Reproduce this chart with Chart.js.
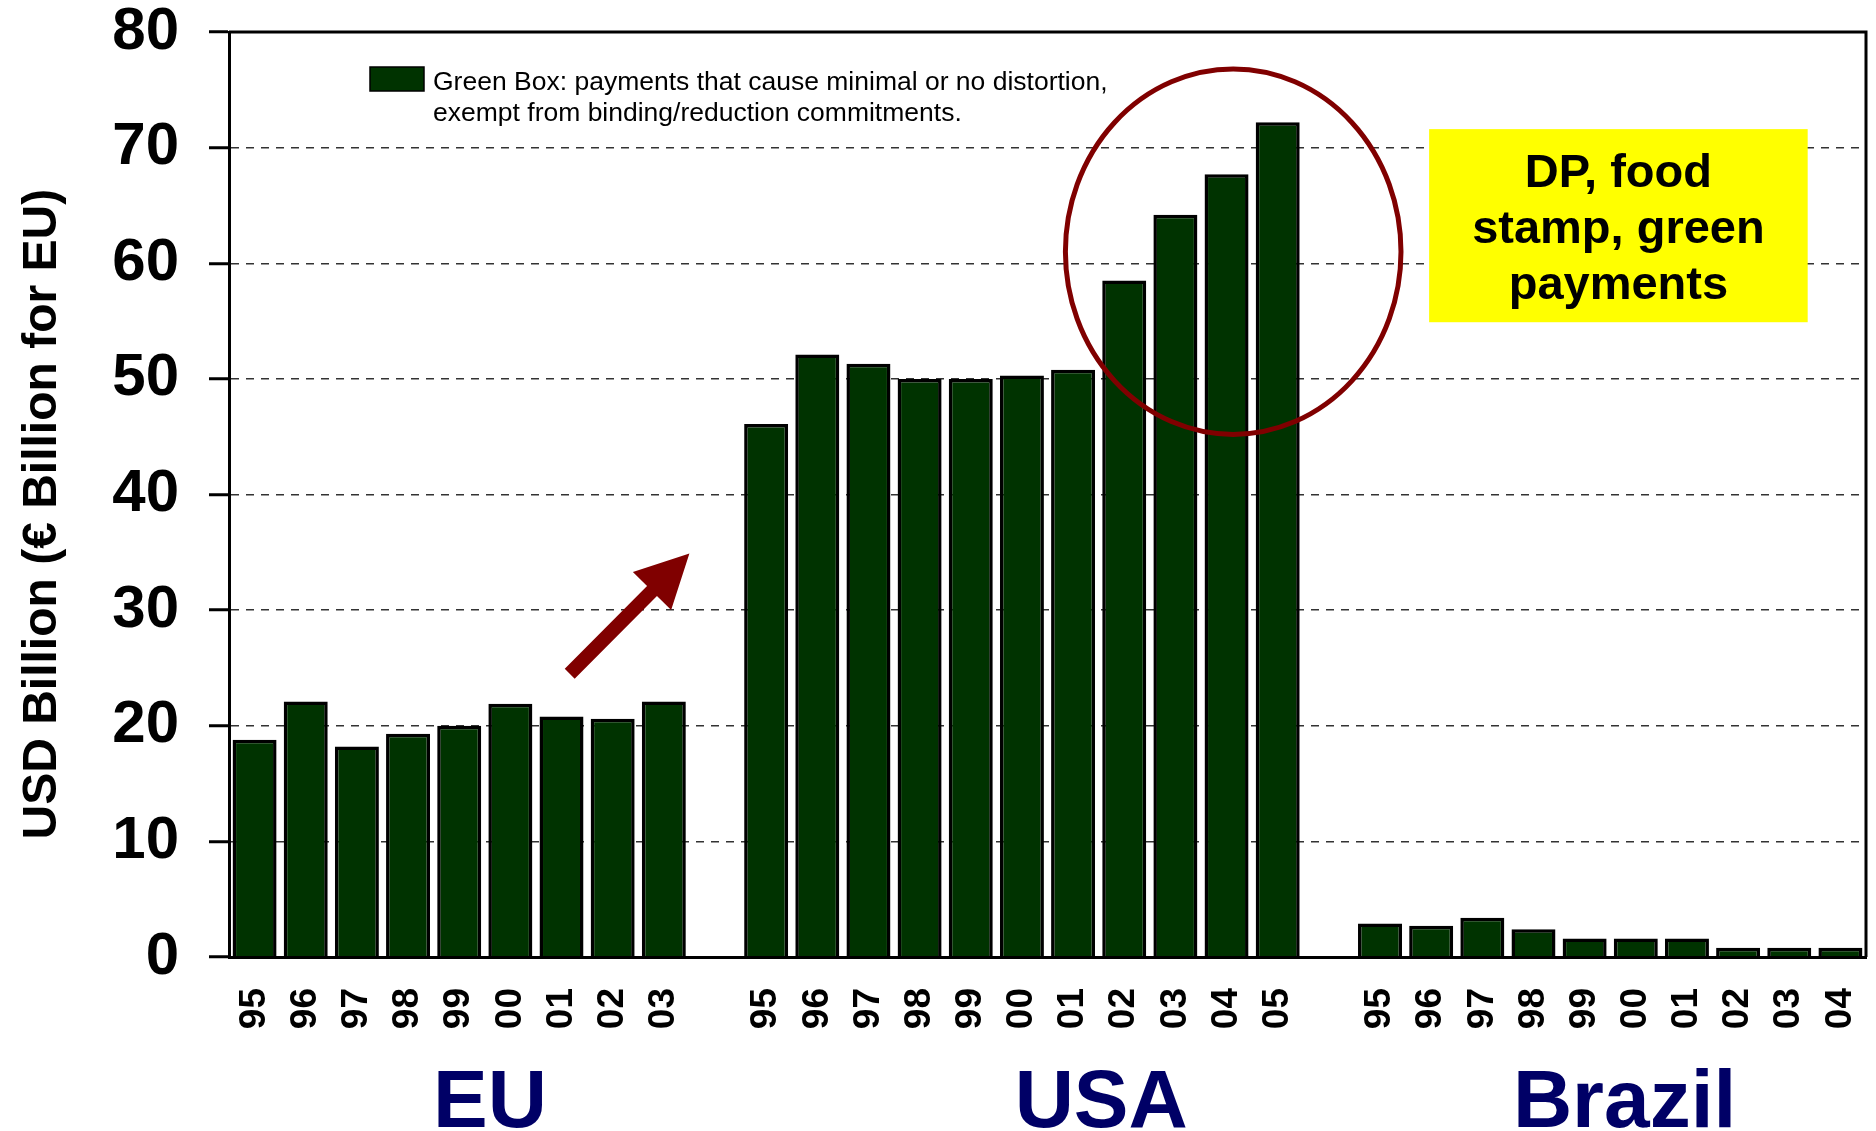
<!DOCTYPE html>
<html>
<head>
<meta charset="utf-8">
<script src="https://cdn.jsdelivr.net/npm/chart.js@4.4.1/dist/chart.umd.min.js"></script>
<style>
  html, body { margin: 0; padding: 0; background: #fff; }
  #wrap { width: 1876px; height: 1131px; position: relative; }
</style>
</head>
<body>
<div id="wrap"><canvas id="greenBoxChart"></canvas></div>
<script>
const euYears = ['95', '96', '97', '98', '99', '00', '01', '02', '03'];
const euValues = [18.8, 22.1, 18.2, 19.3, 20.0, 21.9, 20.8, 20.6, 22.1];

const usaYears = ['95', '96', '97', '98', '99', '00', '01', '02', '03', '04', '05'];
const usaValues = [46.1, 52.1, 51.3, 50.0, 50.0, 50.3, 50.8, 58.5, 64.2, 67.7, 72.2];

const brazilYears = ['95', '96', '97', '98', '99', '00', '01', '02', '03', '04'];
const brazilValues = [2.9, 2.7, 3.4, 2.4, 1.6, 1.6, 1.6, 0.8, 0.8, 0.8];

const groupNames = ['EU', 'USA', 'Brazil'];
const legendLines = [
  'Green Box: payments that cause minimal or no distortion,',
  'exempt from binding/reduction commitments.'
];
const noteLines = ['DP, food', 'stamp, green', 'payments'];
const yTitle = 'USD Billion (\u20ac Billion for EU)';

// one empty slot between the country groups
const labels = [...euYears, '', ...usaYears, '', ...brazilYears];
const values = [...euValues, null, ...usaValues, null, ...brazilValues];

const FONT = '"Liberation Sans", Arial, sans-serif';
const BAR_GREEN = '#003300';
const MAROON = '#800000';
const NAVY = '#000066';

// annotation anchors, in category index / value units
const captionAt = [4.6, 16.55, 26.78];
const ring = { cx: 19.13, cy: 61.0, rx: 3.28, ry: 15.8 };
const noteBox = { x0: 22.96, x1: 30.36, y0: 71.6, y1: 54.9 };
const arrow = { x0: 6.16, y0: 24.5, x1: 8.5, y1: 34.9 };

function drawArrow(ctx, x0, y0, x1, y1, shaft, headLen, headW) {
  const ang = Math.atan2(y1 - y0, x1 - x0);
  const len = Math.hypot(x1 - x0, y1 - y0);
  ctx.save();
  ctx.translate(x0, y0);
  ctx.rotate(ang);
  ctx.beginPath();
  ctx.moveTo(0, -shaft / 2);
  ctx.lineTo(len - headLen, -shaft / 2);
  ctx.lineTo(len - headLen, -headW / 2);
  ctx.lineTo(len, 0);
  ctx.lineTo(len - headLen, headW / 2);
  ctx.lineTo(len - headLen, shaft / 2);
  ctx.lineTo(0, shaft / 2);
  ctx.closePath();
  ctx.fill();
  ctx.restore();
}

const overlay = {
  id: 'overlay',
  afterDatasetsDraw(chart) {
    const { ctx, chartArea: a, scales: { x, y } } = chart;
    ctx.save();

    // frame: top and right edges
    ctx.strokeStyle = '#000';
    ctx.lineWidth = 3;
    ctx.beginPath();
    ctx.moveTo(a.left, a.top);
    ctx.lineTo(a.right, a.top);
    ctx.lineTo(a.right, a.bottom);
    ctx.stroke();

    // legend
    const ds = chart.data.datasets[0];
    const lx = a.left + 141, ly = a.top + 35;
    ctx.fillStyle = ds.backgroundColor;
    ctx.fillRect(lx, ly, 54, 24);
    ctx.lineWidth = 1.5;
    ctx.strokeStyle = '#000';
    ctx.strokeRect(lx, ly, 54, 24);
    ctx.fillStyle = '#000';
    ctx.font = '26.5px ' + FONT;
    ctx.textAlign = 'left';
    ctx.textBaseline = 'alphabetic';
    legendLines.forEach((t, i) => ctx.fillText(t, lx + 63, ly + 23 + i * 31));

    // yellow note
    const bx0 = x.getPixelForValue(noteBox.x0), bx1 = x.getPixelForValue(noteBox.x1);
    const by0 = y.getPixelForValue(noteBox.y0), by1 = y.getPixelForValue(noteBox.y1);
    ctx.fillStyle = '#ffff00';
    ctx.fillRect(bx0, by0, bx1 - bx0, by1 - by0);
    ctx.fillStyle = '#000';
    ctx.font = 'bold 47px ' + FONT;
    ctx.textAlign = 'center';
    noteLines.forEach((t, i) => ctx.fillText(t, (bx0 + bx1) / 2, by0 + 58 + i * 56));

    // ring round the last USA years
    const cx = x.getPixelForValue(ring.cx), cy = y.getPixelForValue(ring.cy);
    const rx = x.getPixelForValue(ring.cx + ring.rx) - cx;
    const ry = cy - y.getPixelForValue(ring.cy + ring.ry);
    ctx.strokeStyle = MAROON;
    ctx.lineWidth = 5;
    ctx.beginPath();
    ctx.ellipse(cx, cy, rx, ry, 0, 0, Math.PI * 2);
    ctx.stroke();

    // arrow EU -> USA
    ctx.fillStyle = MAROON;
    drawArrow(ctx,
      x.getPixelForValue(arrow.x0), y.getPixelForValue(arrow.y0),
      x.getPixelForValue(arrow.x1), y.getPixelForValue(arrow.y1),
      14, 53, 54);

    ctx.restore();
  },
  afterDraw(chart) {
    const { ctx, chartArea: a, scales: { x, y } } = chart;
    ctx.save();

    // y axis title
    ctx.translate(43, y.getPixelForValue(38.3));
    ctx.rotate(-Math.PI / 2);
    ctx.fillStyle = '#000';
    ctx.font = 'bold 48px ' + FONT;
    ctx.textAlign = 'center';
    ctx.textBaseline = 'middle';
    ctx.fillText(yTitle, 0, 0);
    ctx.setTransform(1, 0, 0, 1, 0, 0);

    // country captions
    ctx.fillStyle = NAVY;
    ctx.font = 'bold 82px ' + FONT;
    ctx.textAlign = 'center';
    ctx.textBaseline = 'alphabetic';
    groupNames.forEach((g, i) => ctx.fillText(g, x.getPixelForValue(captionAt[i]), a.bottom + 170));

    ctx.restore();
  }
};

new Chart(document.getElementById('greenBoxChart'), {
  type: 'bar',
  data: {
    labels: labels,
    datasets: [{
      label: legendLines.join(' '),
      data: values,
      backgroundColor: BAR_GREEN,
      borderColor: '#000',
      borderWidth: 3.5,
      categoryPercentage: 1.0,
      barPercentage: 0.86
    }]
  },
  options: {
    responsive: true,
    maintainAspectRatio: false,
    animation: false,
    layout: { padding: { top: 32, right: 10, left: 0, bottom: 0 } },
    plugins: {
      legend: { display: false },
      tooltip: { enabled: false }
    },
    scales: {
      x: {
        grid: { display: false, drawTicks: false },
        border: { display: true, color: '#000', width: 3, z: 1 },
        ticks: {
          color: '#000',
          font: { family: FONT, size: 37, weight: 'bold', lineHeight: 1 },
          maxRotation: 90,
          minRotation: 90,
          autoSkip: false,
          padding: 31
        },
        afterFit(scale) {
          scale.height = 174;
          scale.paddingLeft = 0;
          scale.paddingRight = 0;
        }
      },
      y: {
        min: 0,
        max: 80,
        ticks: {
          stepSize: 10,
          color: '#000',
          font: { family: FONT, size: 60, weight: 'bold', lineHeight: 1 },
          padding: 30
        },
        grid: {
          color: (c) => (c.tick && (c.tick.value === 0 || c.tick.value === 80)) ? 'rgba(0,0,0,0)' : '#333',
          lineWidth: 1.5,
          tickLength: 20,
          tickColor: '#000',
          tickWidth: 3,
          tickBorderDash: []
        },
        border: { display: true, color: '#000', width: 3, dash: [8, 7], z: 1 },
        afterFit(scale) {
          scale.width = 229;
          scale.paddingTop = 0;
          scale.paddingBottom = 0;
        }
      }
    }
  },
  plugins: [overlay]
});
</script>
</body>
</html>
